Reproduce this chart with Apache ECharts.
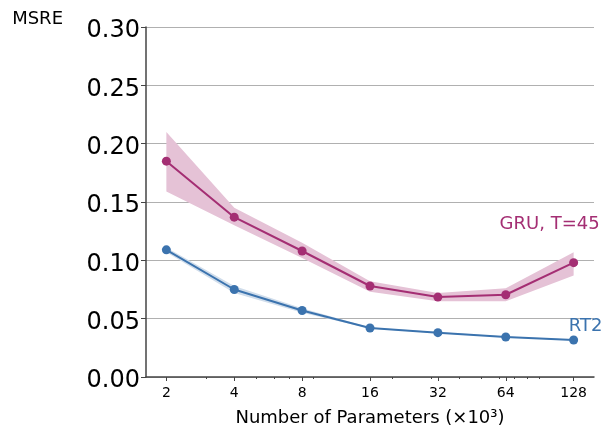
<!DOCTYPE html>
<html>
<head>
<meta charset="utf-8">
<script src="https://cdn.jsdelivr.net/npm/echarts@6/dist/echarts.min.js"></script>
<style>
  html, body { margin: 0; padding: 0; background: #fff; }
  #chart { width: 604px; height: 427px; }
</style>
</head>
<body>
<div id="chart"></div>
<script>
// Model sizes (thousands of parameters) on a log2 axis
const sizes = [2, 4, 8, 16, 32, 64, 128];
const minorTicks = [3, 5, 6, 7, 9, 20, 30, 40, 50, 60, 70, 80, 90];
const yTicks = [0, 0.05, 0.10, 0.15, 0.20, 0.25, 0.30];

// GRU, T=45: mean error and spread band
const gruMean = [0.185, 0.137, 0.108, 0.078, 0.0685, 0.0705, 0.098];
const gruLow  = [0.159, 0.130, 0.102, 0.073, 0.065, 0.065, 0.087];
const gruHigh = [0.210, 0.145, 0.115, 0.082, 0.072, 0.076, 0.107];

// RT2: mean error and spread band
const rt2Mean = [0.109, 0.075, 0.057, 0.042, 0.038, 0.0343, 0.0317];
const rt2Low  = [0.107, 0.072, 0.055, 0.0415, 0.0375, 0.0340, 0.0313];
const rt2High = [0.111, 0.078, 0.059, 0.0425, 0.0385, 0.0347, 0.0321];

const GRU_COLOR = '#a42e73';
const GRU_FILL = '#e5c2d6';
const RT2_COLOR = '#3b73ae';
const RT2_FILL = '#d0ddeb';
const FONT = 'DejaVu Sans';

const xMin = Math.pow(2, 0.7);
const xMax = Math.pow(2, 7.3);

const pairs = (ys) => sizes.map((s, i) => [s, ys[i]]);

// Shaded spread band: one polygon through the upper bounds and back along the lower bounds
function bandSeries(name, lo, hi, fill) {
  return {
    name: name + ' band', type: 'custom', silent: true, z: 1,
    data: [[sizes[0], lo[0]]],
    renderItem: function (params, api) {
      const upper = sizes.map((s, i) => api.coord([s, hi[i]]));
      const lower = sizes.map((s, i) => api.coord([s, lo[i]])).reverse();
      return {
        type: 'polygon',
        shape: { points: upper.concat(lower) },
        style: { fill: fill }
      };
    }
  };
}

function meanSeries(name, ys, color, labelText, labelOffset) {
  const data = pairs(ys).map((p, i) => {
    if (i === ys.length - 1) {
      return {
        value: p,
        label: {
          show: true, position: 'inside', offset: labelOffset,
          formatter: labelText, color: color,
          fontFamily: FONT, fontSize: 18
        }
      };
    }
    return { value: p };
  });
  return {
    name: name, type: 'line', data: data,
    symbol: 'circle', symbolSize: 9,
    itemStyle: { color: color },
    lineStyle: { color: color, width: 2 },
    z: 3
  };
}

const chart = echarts.init(document.getElementById('chart'), null, { renderer: 'canvas' });

chart.setOption({
  animation: false,
  backgroundColor: '#ffffff',
  grid: { left: 146, right: 10, top: 27, bottom: 50, containLabel: false, outerBoundsMode: 'none' },
  xAxis: [
    {
      type: 'log', logBase: 2, min: xMin, max: xMax,
      name: 'Number of Parameters (×10³)',
      nameLocation: 'middle', nameGap: 32,
      nameTextStyle: { fontFamily: FONT, fontSize: 18, color: '#000' },
      axisLine: { lineStyle: { color: '#444', width: 1.5 } },
      axisTick: { show: true, length: 4, customValues: sizes, lineStyle: { color: '#444', width: 1 } },
      axisLabel: {
        customValues: sizes, margin: 9,
        fontFamily: FONT, fontSize: 14, color: '#000',
        formatter: (v) => String(Math.round(v))
      },
      splitLine: { show: false },
      minorTick: { show: false }
    },
    {
      type: 'log', logBase: 2, min: xMin, max: xMax, position: 'bottom',
      axisLine: { show: false },
      axisTick: { show: true, length: 2, customValues: minorTicks, lineStyle: { color: '#444', width: 1 } },
      axisLabel: { show: false },
      splitLine: { show: false }
    }
  ],
  yAxis: {
    type: 'value', min: 0, max: 0.30, interval: 0.05,
    name: 'MSRE', nameLocation: 'end', nameGap: 8,
    nameTextStyle: {
      fontFamily: FONT, fontSize: 18, color: '#000',
      align: 'right', verticalAlign: 'middle', padding: [0, 83, 0, 0]
    },
    axisLine: { show: true, lineStyle: { color: '#444', width: 1.5 } },
    axisTick: { show: true, length: 5, lineStyle: { color: '#444', width: 1 } },
    axisLabel: {
      margin: 6, color: '#000',
      formatter: (v) => '{n|' + v.toFixed(2) + '}',
      rich: {
        n: { fontFamily: FONT, fontSize: 24, color: '#000', padding: [8, 0, 0, 0] }
      }
    },
    splitLine: { show: true, lineStyle: { color: '#b0b0b0', width: 1 } }
  },
  series: [
    bandSeries('GRU', gruLow, gruHigh, GRU_FILL),
    bandSeries('RT2', rt2Low, rt2High, RT2_FILL),
    meanSeries('GRU, T=45', gruMean, GRU_COLOR, 'GRU, T=45', [-24, -38]),
    meanSeries('RT2', rt2Mean, RT2_COLOR, 'RT2', [12, -14])
  ]
});
</script>
</body>
</html>
